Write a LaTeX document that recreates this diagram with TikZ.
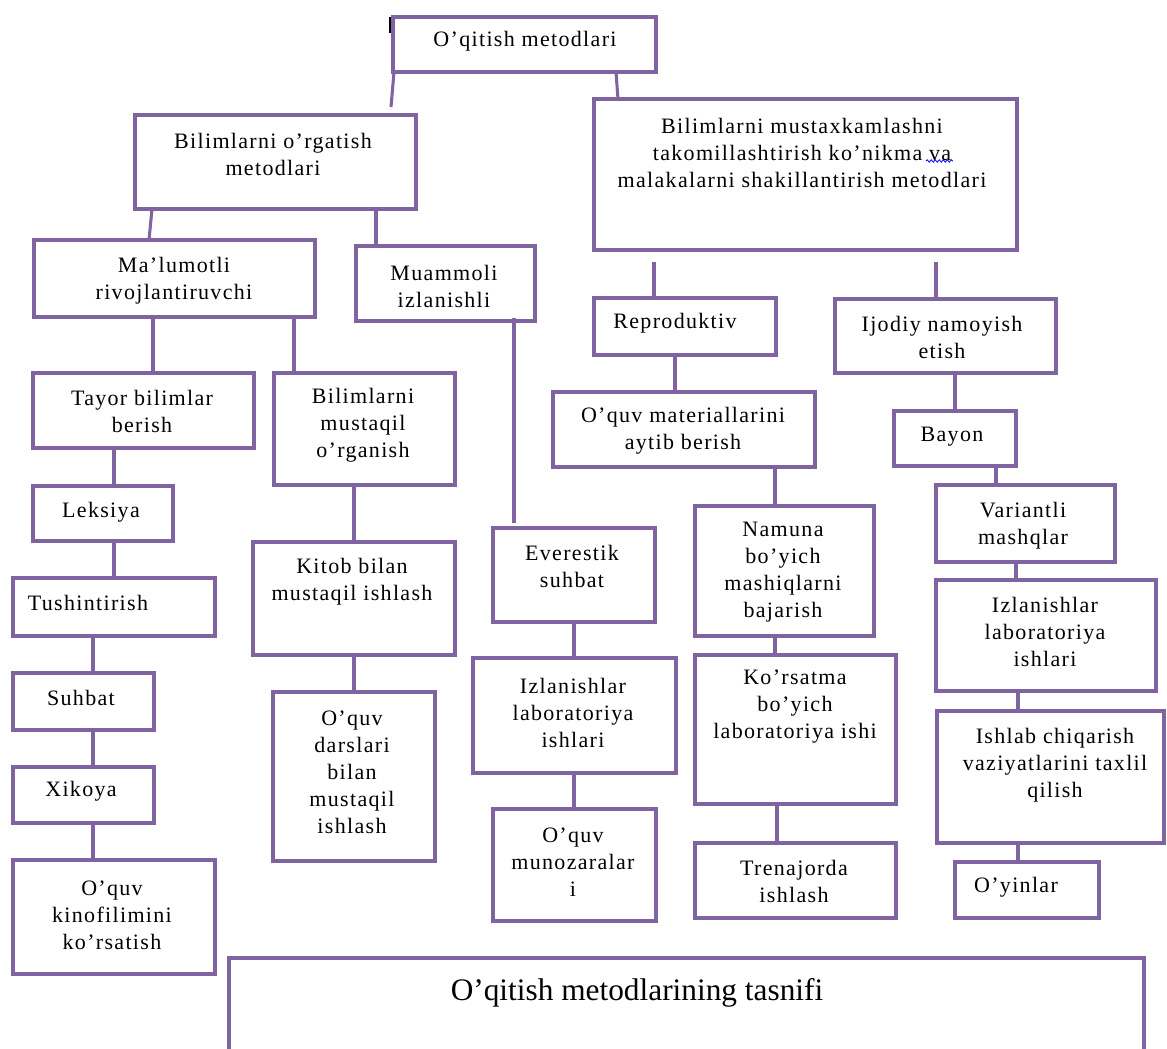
\documentclass[tikz,border=0pt]{standalone}
\usepackage{fontspec}
\setmainfont{Liberation Serif}
\newfontfamily\lsfont[LetterSpace=6]{Liberation Serif}
\usetikzlibrary{calc,decorations.pathmorphing}
\definecolor{pur}{HTML}{8064A2}
\tikzset{
  box/.style={draw=pur, line width=2.3pt, rectangle, inner sep=0pt, outer sep=0pt},
  txt/.style={align=center, inner sep=0pt, font=\lsfont\fontsize{16.5}{20.25}\selectfont},
  link/.style={draw=pur, line width=2.3pt},
}
\newcommand\bx[5]{\node[box, minimum width={(#4-#2)*0.75pt}, minimum height={(#5-#3)*0.75pt}] (#1) at ({(#2+#4)/2},{(#3+#5)/2}) {};}
\newcommand\tx[4]{\node[txt] (#1) at (#2,#3) {#4};}
\begin{document}
\begin{tikzpicture}[x=0.75pt,y=-0.75pt]
\useasboundingbox (0,0) rectangle (1167,1049);
\clip (0,0) rectangle (1167,1049);
% boxes
\bx{top}{393}{17}{656}{72}
\bx{ob}{135}{115}{416}{209}
\bx{must}{594}{99}{1017}{250}
\bx{mal}{34}{240}{315}{317}
\bx{muam}{356}{246}{535}{321}
\bx{repr}{594}{298}{776}{355}
\bx{ijod}{835}{299}{1056}{373}
\bx{tayor}{33}{373}{254}{448}
\bx{bmo}{274}{373}{455}{485}
\bx{oqm}{553}{392}{815}{467}
\bx{bayon}{894}{411}{1016}{466}
\bx{leks}{33}{486}{173}{541}
\bx{kitob}{253}{542}{455}{655}
\bx{ever}{493}{528}{655}{622}
\bx{nam}{695}{506}{874}{636}
\bx{var}{936}{485}{1115}{562}
\bx{tush}{13}{578}{215}{636}
\bx{izr}{936}{580}{1156}{691}
\bx{suh}{13}{673}{154}{730}
\bx{dars}{273}{692}{435}{861}
\bx{izm}{473}{658}{676}{773}
\bx{kor}{695}{655}{896}{804}
\bx{ish}{937}{711}{1164}{843}
\bx{xik}{13}{767}{154}{823}
\bx{mun}{493}{809}{656}{921}
\bx{tren}{695}{843}{896}{918}
\bx{oyin}{955}{862}{1099}{918}
\bx{kino}{13}{860}{215}{974}
\bx{tasnif}{229}{958}{1144}{1080}
% texts
\tx{top-t}{525}{41}{O’qitish metodlari}
\tx{ob-t}{273}{154}{Bilimlarni o’rgatish\\metodlari}
\tx{must-t}{802}{153}{Bilimlarni mustaxkamlashni\\takomillashtirish ko’nikma va\\malakalarni shakillantirish metodlari}
\tx{mal-t}{174}{281}{Ma’lumotli\\rivojlantiruvchi}
\tx{muam-t}{444}{286}{Muammoli\\izlanishli}
\tx{repr-t}{675}{323}{Reproduktiv}
\tx{ijod-t}{942}{337}{Ijodiy namoyish\\etish}
\tx{tayor-t}{142}{411}{Tayor bilimlar\\berish}
\tx{bmo-t}{363}{425}{Bilimlarni\\mustaqil\\o’rganish}
\tx{oqm-t}{683}{431}{O’quv materiallarini\\aytib berish}
\tx{bayon-t}{952}{437}{Bayon}
\tx{leks-t}{101}{512}{Leksiya}
\tx{kitob-t}{352}{582}{Kitob bilan\\mustaqil ishlash}
\tx{ever-t}{572}{566}{Everestik\\suhbat}
\tx{nam-t}{783}{572}{Namuna\\bo’yich\\mashiqlarni\\bajarish}
\tx{var-t}{1023}{526}{Variantli\\mashqlar}
\tx{tush-t}{88}{603}{Tushintirish}
\tx{izr-t}{1045}{632}{Izlanishlar\\laboratoriya\\ishlari}
\tx{suh-t}{81}{698}{Suhbat}
\tx{dars-t}{352}{772}{O’quv\\darslari\\bilan\\mustaqil\\ishlash}
\tx{izm-t}{573}{713}{Izlanishlar\\laboratoriya\\ishlari}
\tx{kor-t}{795}{707}{Ko’rsatma\\bo’yich\\laboratoriya ishi}
\tx{ish-t}{1055}{765}{Ishlab chiqarish\\vaziyatlarini taxlil\\qilish}
\tx{xik-t}{81}{791}{Xikoya}
\tx{mun-t}{573}{862}{O’quv\\munozaralar\\i}
\tx{tren-t}{794}{881}{Trenajorda\\ishlash}
\tx{oyin-t}{1016}{887}{O’yinlar}
\tx{kino-t}{112}{915}{O’quv\\kinofilimini\\ko’rsatish}
\node[inner sep=0pt, font=\fontsize{23.5}{27}\selectfont] (tasnif-t) at (637,993) {O’qitish metodlarining tasnifi};
% spell-check underline
\draw[blue, line width=0.6pt, decorate, decoration={snake, amplitude=0.9pt, segment length=3pt}] (926,161) -- (953,161);
% stray mark
\draw[black, line width=1.6pt] (390,17) -- (390,33);
% connectors
\coordinate (c1) at (391,107);
\coordinate (c2) at (654,262);
\coordinate (c3) at (936,262);
\path[link] (top.south -| 394,0) -- (c1);
\path[link] (top.south -| 616,0) -- (must.north -| 618,0);
\path[link] (ob.south -| 152,0) -- (mal.north -| 149,0);
\path[link] (ob.south -| 376,0) -- (muam.north -| 376,0);
\path[link] (c2) -- (repr.north -| 654,0);
\path[link] (c3) -- (ijod.north -| 936,0);
\path[link] (mal.south -| 153,0) -- (tayor.north -| 153,0);
\path[link] (mal.south -| 294,0) -- (bmo.north -| 294,0);
\path[link] ($(muam.south -| 514,0)+(0,-3)$) -- ($(ever.north -| 514,0)+(0,-5)$);
\path[link] (repr.south -| 675,0) -- (oqm.north -| 675,0);
\path[link] (oqm.south -| 775,0) -- (nam.north -| 775,0);
\path[link] (nam.south -| 775,0) -- (kor.north -| 775,0);
\path[link] (kor.south -| 777,0) -- (tren.north -| 777,0);
\path[link] (ijod.south -| 955,0) -- (bayon.north -| 955,0);
\path[link] (bayon.south -| 996,0) -- (var.north -| 996,0);
\path[link] (var.south -| 1016,0) -- (izr.north -| 1016,0);
\path[link] (izr.south -| 1018,0) -- (ish.north -| 1018,0);
\path[link] (ish.south -| 1018,0) -- (oyin.north -| 1018,0);
\path[link] (tayor.south -| 114,0) -- (leks.north -| 114,0);
\path[link] (leks.south -| 114,0) -- (tush.north -| 114,0);
\path[link] (tush.south -| 93,0) -- (suh.north -| 93,0);
\path[link] (suh.south -| 93,0) -- (xik.north -| 93,0);
\path[link] (xik.south -| 93,0) -- (kino.north -| 93,0);
\path[link] (bmo.south -| 354,0) -- (kitob.north -| 354,0);
\path[link] (kitob.south -| 354,0) -- (dars.north -| 354,0);
\path[link] (ever.south -| 574,0) -- (izm.north -| 574,0);
\path[link] (izm.south -| 574,0) -- (mun.north -| 574,0);
\end{tikzpicture}
\end{document}
